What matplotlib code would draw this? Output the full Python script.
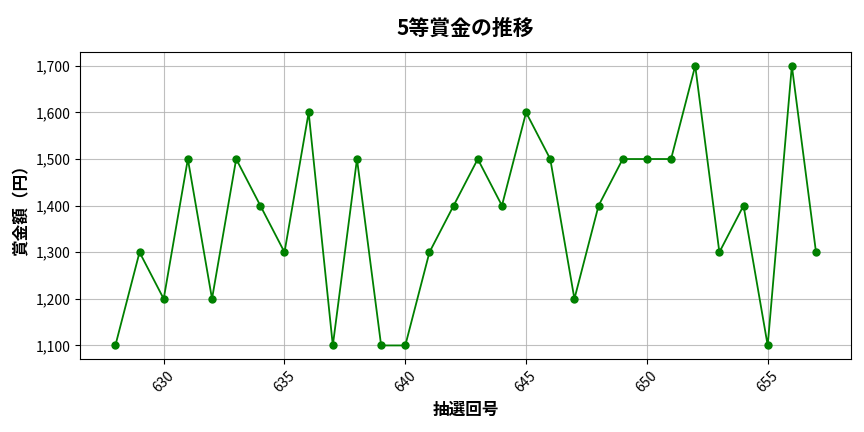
import matplotlib.pyplot as plt
from matplotlib.ticker import FuncFormatter

plt.rcParams['font.family'] = ['Noto Sans CJK JP', 'DejaVu Sans']

draws = list(range(628, 658))
prizes = [1100, 1300, 1200, 1500, 1200, 1500, 1400, 1300, 1600, 1100,
          1500, 1100, 1100, 1300, 1400, 1500, 1400, 1600, 1500, 1200,
          1400, 1500, 1500, 1500, 1700, 1300, 1400, 1100, 1700, 1300]

fig, ax = plt.subplots(figsize=(8.64, 4.32), dpi=100)
ax.plot(draws, prizes, marker='o', color='green', markersize=5, linewidth=1.3)
ax.set_title('5等賞金の推移', fontsize=15, fontweight='bold', pad=12)
ax.set_xlabel('抽選回号', fontsize=12, fontweight='bold')
ax.set_ylabel('賞金額（円）', fontsize=12, fontweight='bold')
ax.yaxis.set_major_formatter(FuncFormatter(lambda v, p: f'{int(v):,}'))
ax.tick_params(axis='x', rotation=45)
ax.grid(True, alpha=0.8)
fig.subplots_adjust(left=0.093, right=0.985, top=0.88, bottom=0.168)
fig.savefig('out.png')
